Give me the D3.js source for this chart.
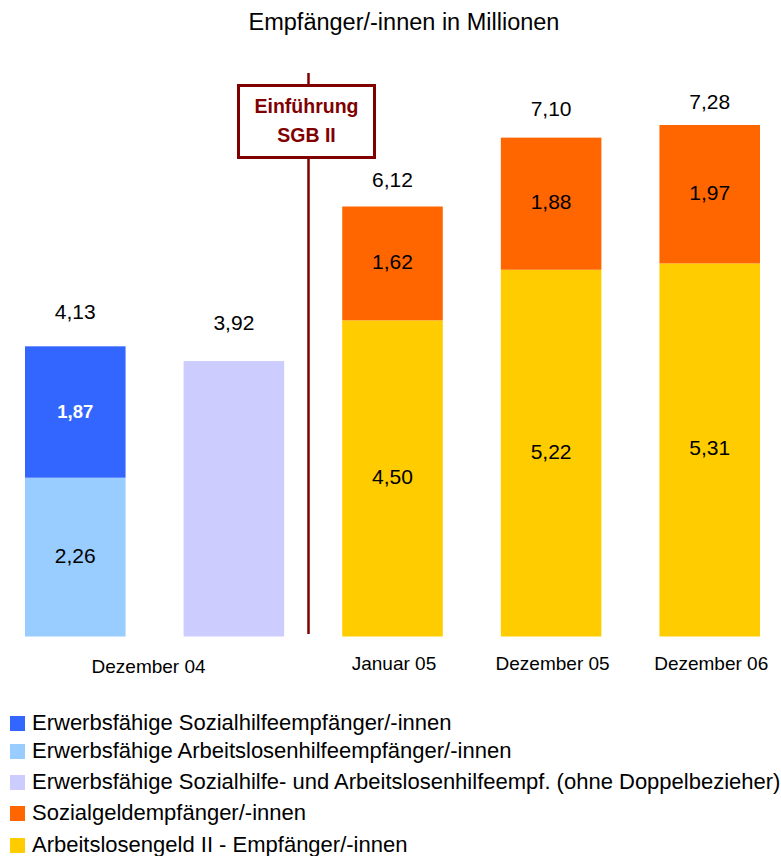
<!DOCTYPE html>
<html><head><meta charset="utf-8">
<script src="https://cdn.jsdelivr.net/npm/d3@7"></script>
<style>body{margin:0;background:#fff}text{font-family:"Liberation Sans",Arial,sans-serif}</style>
</head><body>
<svg id="c" width="781" height="856"></svg>
<script>
const bars = ["b1","b2","b3","b4","b5"];
const groupLabels = ["Dezember 04","Januar 05","Dezember 05","Dezember 06"];
const groupBars = [["b1","b2"],["b3"],["b4"],["b5"]];
const seriesNames = [
  "Erwerbsfähige Sozialhilfeempfänger/-innen",
  "Erwerbsfähige Arbeitslosenhilfeempfänger/-innen",
  "Erwerbsfähige Sozialhilfe- und Arbeitslosenhilfeempf. (ohne Doppelbezieher)",
  "Sozialgeldempfänger/-innen",
  "Arbeitslosengeld II - Empfänger/-innen"
];
const colors = ["#3366FF","#99CCFF","#CCCCFF","#FF6600","#FFCC00"];
// bottom-to-top segments per bar: [seriesIndex, value]
const segments = [
  [[1,2.26],[0,1.87]],
  [[2,3.92]],
  [[4,4.50],[3,1.62]],
  [[4,5.22],[3,1.88]],
  [[4,5.31],[3,1.97]]
];
const showSegLabel = [[true,true],[false],[true,true],[true,true],[true,true]];
const totals = ["4,13","3,92","6,12","7,10","7,28"];
const totalGap = [27,31,19.5,22,16];

const svg = d3.select("#c");
const x = d3.scaleBand().domain(bars).range([25,760]).paddingInner(0.366).paddingOuter(0);
const y = d3.scaleLinear().domain([0,7.28]).range([636.5,125]);
const fmt = v => d3.format(".2f")(v).replace(".",",");

bars.forEach((b,i)=>{
  let base = 0;
  segments[i].forEach(([s,v],j)=>{
    svg.append("rect").attr("x",x(b)).attr("width",x.bandwidth())
      .attr("y",y(base+v)).attr("height",y(base)-y(base+v))
      .attr("fill",colors[s]);
    if (showSegLabel[i][j]) {
      const white = s===0;
      svg.append("text").attr("x",x(b)+x.bandwidth()/2).attr("y",y(base+v/2)+5.5)
        .attr("text-anchor","middle").attr("font-size",white?18.5:21)
        .attr("font-weight",white?"bold":"normal")
        .attr("fill",white?"#fff":"#000").text(fmt(v));
    }
    base += v;
  });
  svg.append("text").attr("x",x(b)+x.bandwidth()/2).attr("y",y(base)-totalGap[i])
    .attr("text-anchor","middle").attr("font-size",21).text(totals[i]);
});

// x labels
groupLabels.forEach((t,i)=>{
  const cs = groupBars[i].map(b=>x(b)+x.bandwidth()/2);
  const cx = d3.mean(cs) + (cs.length>1 ? -6 : 1.5);
  svg.append("text").attr("x",cx).attr("y",cs.length>1?673:670).attr("text-anchor","middle")
    .attr("font-size",19).text(t);
});

// title
svg.append("text").attr("x",404).attr("y",30).attr("text-anchor","middle")
  .attr("font-size",23.5).text("Empfänger/-innen in Millionen");

// SGB II line and box
const dr = "#800000";
svg.append("line").attr("x1",308.5).attr("x2",308.5).attr("y1",73).attr("y2",634)
  .attr("stroke",dr).attr("stroke-width",2.5);
svg.append("rect").attr("x",238.5).attr("y",85.5).attr("width",136).attr("height",72)
  .attr("fill","#fff").attr("stroke",dr).attr("stroke-width",3);
svg.append("text").attr("x",306.5).attr("y",113).attr("text-anchor","middle")
  .attr("font-size",19.5).attr("font-weight","bold").attr("fill",dr).text("Einführung");
svg.append("text").attr("x",306.5).attr("y",141.5).attr("text-anchor","middle")
  .attr("font-size",19.5).attr("font-weight","bold").attr("fill",dr).text("SGB II");

// legend
const legY = [730,758,789,820,852];
seriesNames.forEach((n,i)=>{
  svg.append("rect").attr("x",10).attr("y",legY[i]-14).attr("width",15).attr("height",15).attr("fill",colors[i]);
  svg.append("text").attr("x",32).attr("y",legY[i]).attr("font-size",22).text(n);
});
</script>
</body></html>
